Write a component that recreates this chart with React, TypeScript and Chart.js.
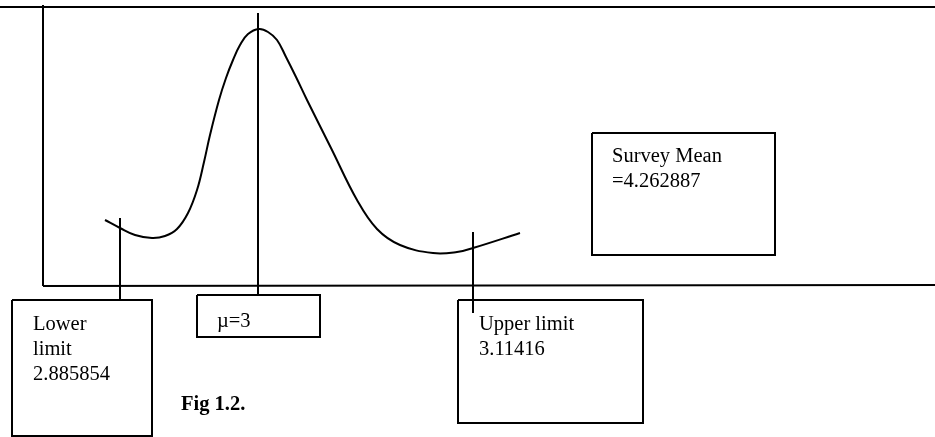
import React, { useEffect, useRef } from "react";
import { Chart, registerables } from "chart.js";

Chart.register(...registerables);

// Diagram coordinate space (x: 0..935 across, y: 0..437 downwards)
const curveX = [105, 120, 135, 152, 165, 177, 188, 197, 204, 210, 219, 226, 233, 240, 248, 259, 268, 277, 286, 296, 307, 331, 357, 377, 400, 433, 457, 473, 520];
const curveY = [220, 228, 235, 238, 236, 229, 213, 190, 162, 135, 100, 78, 60, 45, 34, 29, 32, 40, 57, 77, 100, 148, 200, 229, 245, 253, 252, 248, 233];

// frame lines: [x1, y1, x2, y2]
const frameLines = [
  [0, 7, 935, 7],
  [43, 5, 43, 286],
  [43, 286, 935, 285],
];
// marker lines: mean, lower limit, upper limit
const markerLines = [
  [258, 13, 258, 295],
  [120, 218, 120, 300],
  [473, 232, 473, 313],
];
// boxes: [left, top, right, bottom]
const boxes = [
  [12, 300, 152, 436],
  [197, 295, 320, 337],
  [458, 300, 643, 423],
  [592, 133, 775, 255],
];
// labels: text, x, baseline y, bold
const labelTexts = ["Lower", "limit", "2.885854", "\u00b5=3", "Upper limit", "3.11416", "Survey Mean", "=4.262887", "Fig 1.2."];
const labelX = [33, 33, 33, 217, 479, 479, 612, 612, 181];
const labelY = [330, 355, 380, 327, 330, 355, 162, 187, 410];
const labelBold = [false, false, false, false, false, false, false, false, true];

function lineData(l: number[]) {
  return [{ x: l[0], y: l[1] }, { x: l[2], y: l[3] }];
}
function boxData(b: number[]) {
  return [
    { x: b[0], y: b[1] },
    { x: b[2], y: b[1] },
    { x: b[2], y: b[3] },
    { x: b[0], y: b[3] },
    { x: b[0], y: b[1] },
  ];
}

const labelPlugin = {
  id: "labels",
  afterDatasetsDraw(chart: any) {
    const { ctx, scales } = chart;
    ctx.save();
    ctx.fillStyle = "#000";
    ctx.textBaseline = "alphabetic";
    ctx.textAlign = "left";
    labelTexts.forEach((t, i) => {
      ctx.font = (labelBold[i] ? "bold " : "") + "20.5px 'Liberation Serif', 'Times New Roman', serif";
      ctx.fillText(t, scales.x.getPixelForValue(labelX[i]), scales.y.getPixelForValue(labelY[i]));
    });
    ctx.restore();
  },
};

export default function App() {
  const ref = useRef<HTMLCanvasElement | null>(null);
  useEffect(() => {
    document.body.style.margin = "0";
    const base = { borderColor: "#000", borderWidth: 2, pointRadius: 0, showLine: true, fill: false, clip: false as any, tension: 0 };
    const datasets: any[] = [];
    frameLines.forEach((l) => datasets.push({ ...base, data: lineData(l) }));
    markerLines.forEach((l) => datasets.push({ ...base, data: lineData(l) }));
    boxes.forEach((b) => datasets.push({ ...base, data: boxData(b), borderJoinStyle: "miter" }));
    datasets.push({
      ...base,
      data: curveX.map((x, i) => ({ x, y: curveY[i] })),
      tension: 0.4,
      borderWidth: 2,
    });
    const chart = new Chart(ref.current!, {
      type: "scatter",
      data: { datasets },
      options: {
        animation: false,
        responsive: false,
        devicePixelRatio: 1,
        layout: { padding: 0 },
        plugins: { legend: { display: false }, tooltip: { enabled: false } },
        events: [],
        scales: {
          x: { type: "linear", min: 0, max: 935, display: false },
          y: { type: "linear", min: 0, max: 437, reverse: true, display: false },
        },
      },
      plugins: [labelPlugin],
    });
    return () => chart.destroy();
  }, []);
  return (
    <div style={{ position: "absolute", left: 0, top: 0, width: 935, height: 437, background: "#fff" }}>
      <canvas ref={ref} width={935} height={437} />
    </div>
  );
}
